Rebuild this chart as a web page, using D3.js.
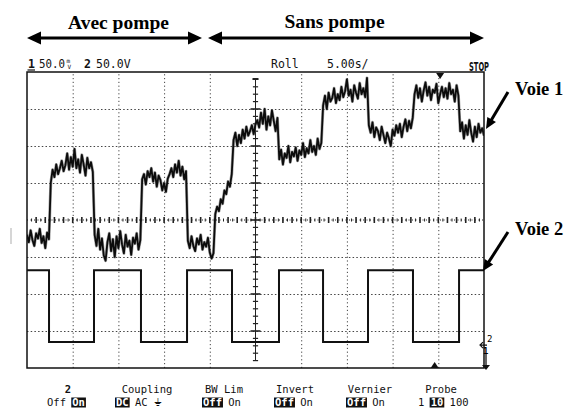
<!DOCTYPE html>
<html><head><meta charset="utf-8">
<script src="https://cdn.jsdelivr.net/npm/d3@7"></script>
<style>html,body{margin:0;padding:0;background:#fff}svg{display:block}</style>
</head><body>
<svg id="c" width="566" height="410"></svg>
<script>
// ---------------- DATA ----------------
// Channel 1 (noisy trace), mV relative to screen centre, one sample every 0.2 s
const ch1TimeStep = 0.2;
const ch1Values = [
  -20,-30,-14,-27,-35,-18,-25,-12,-31,-22,-38,-17,-26,
  50,68,58,75,62,70,80,66,74,90,68,85,72,96,70,82,64,88,75,60,84,70,78,65,
  -20,-35,-12,-40,-25,-48,-55,-30,-18,-42,-26,-50,-22,-38,-15,-33,-45,-20,-36,-28,-47,-24,-32,-18,-40,-27,
  55,62,48,66,58,70,52,64,45,60,54,40,50,38,56,62,70,58,75,64,80,60,72,55,66,
  -28,-38,-22,-35,-42,-25,-33,-20,-40,-30,-36,-24,-44,-52,
  -45,
  8,18,12,28,22,40,35,52,45,62,
  108,118,100,115,104,122,110,126,114,120,128,116,130,
  135,125,145,130,150,122,140,128,148,134,120,138,
  82,95,75,90,84,100,78,92,86,98,80,94,88,104,85,97,90,108,92,100,88,110,96,104,
  155,168,150,172,160,165,178,158,170,162,180,166,174,190,168,176,160,182,172,164,185,170,178,166,192,
  128,118,132,112,125,120,108,126,115,104,118,110,100,122,114,128,118,130,112,126,136,120,134,124,138,
  170,182,165,178,160,175,186,168,180,162,176,172,184,158,170,180,166,178,164,185,170,176,160,182,168,
  120,132,110,128,115,135,118,106,126,112,130,118,124,114
];
// Channel 2 (pump command, square wave): switching times (s) and levels (V)
const ch2Times  = [0, 2.41, 7.33, 12.47, 17.51, 22.43, 27.57, 32.39, 37.31, 42.23, 47.27, 50];
const ch2Levels = [97, 0,   97,   0,     97,    0,     97,    0,     97,    0,     97,    97];

const timeDomain = [0, 50];        // 10 div x 5.00 s/div
const divDomain = [-4, 4];         // 8 vertical divisions
const xGridTicks = [5, 10, 15, 20, 30, 35, 40, 45];
const yGridTicks = [-3, -2, -1, 1, 2, 3];
const ch1PerDiv = 50;   // mV/div
const ch2PerDiv = 50;   // V/div
const ch2OffsetDiv = -3.3;

const sectionLabels = ["Avec pompe", "Sans pompe"];
const traceLabels = ["Voie 1", "Voie 2"];
const headerTexts = ["50.0", "50.0V", "Roll", "5.00s/", "STOP"];
const footerTitles = ["2", "Coupling", "BW Lim", "Invert", "Vernier", "Probe"];
const footerOptions = [["Off","On"], ["DC","AC","⏚"], ["Off","On"], ["Off","On"], ["Off","On"], ["1","10","100"]];
const footerSelected = ["On", "DC", "Off", "Off", "Off", "10"];

// ---------------- DRAWING ----------------
const svg = d3.select('#c');
const P = {left: 27, right: 484, top: 72, bottom: 368};
const x = d3.scaleLinear().domain(timeDomain).range([P.left, P.right]);
const y = d3.scaleLinear().domain(divDomain).range([P.bottom, P.top]);
const mono = "'DejaVu Sans Mono', 'Liberation Mono', monospace";
const serif = "'Liberation Serif', 'DejaVu Serif', serif";

// faint artifact on the left
svg.append('line').attr('x1',11).attr('x2',11).attr('y1',228).attr('y2',244)
  .attr('stroke','#c8c8c8').attr('stroke-width',1.5);

// grid via axes
const vg = svg.append('g').attr('transform', `translate(0,${P.bottom})`)
  .call(d3.axisBottom(x).tickValues(xGridTicks).tickSize(-(P.bottom - P.top)).tickFormat(''));
vg.select('.domain').remove();
vg.selectAll('line').attr('stroke', '#444').attr('stroke-width', 1).attr('stroke-dasharray', '1.2,2.6');
const hg = svg.append('g').attr('transform', `translate(${P.left},0)`)
  .call(d3.axisLeft(y).tickValues(yGridTicks).tickSize(-(P.right - P.left)).tickFormat(''));
hg.select('.domain').remove();
hg.selectAll('line').attr('stroke', '#444').attr('stroke-width', 1).attr('stroke-dasharray', '1.5,2.2');

// centre axes with minor ticks
const cx = x(25), cy = y(0);
const cg = svg.append('g').attr('stroke', '#222');
cg.append('line').attr('x1', P.left).attr('x2', P.right).attr('y1', cy).attr('y2', cy)
  .attr('stroke-dasharray', '1,2.5').attr('stroke-width', 1);
cg.append('line').attr('x1', cx).attr('x2', cx).attr('y1', P.top + 7).attr('y2', P.bottom - 8)
  .attr('stroke-width', 1);
d3.range(0.5, 50, 0.5).forEach(t => {
  const major = Math.abs(t - Math.round(t)) < 1e-6;
  const h = major ? 3 : 1.5;
  cg.append('line').attr('x1', x(t)).attr('x2', x(t)).attr('y1', cy - h).attr('y2', cy + h)
    .attr('stroke-width', major ? 1.6 : 1);
});
d3.range(-3.8, 3.81, 0.2).forEach(v => {
  const isDiv = Math.abs(v - Math.round(v)) < 1e-6;
  const w = isDiv ? 5 : 2.6;
  cg.append('line').attr('x1', cx - w).attr('x2', cx + w).attr('y1', y(v)).attr('y2', y(v))
    .attr('stroke-width', isDiv ? 1.6 : 1.2);
});
cg.append('line').attr('x1', cx - 3).attr('x2', cx + 3).attr('y1', P.top + 7).attr('y2', P.top + 7).attr('stroke-width', 2);

// clip
svg.append('clipPath').attr('id', 'clip').append('rect')
  .attr('x', P.left).attr('y', P.top).attr('width', P.right - P.left).attr('height', P.bottom - P.top);

// channel 1
const line1 = d3.line().x((d, i) => x(i * ch1TimeStep)).y(d => y(d / ch1PerDiv));
svg.append('path').datum(ch1Values).attr('clip-path', 'url(#clip)')
  .attr('d', line1).attr('fill', 'none').attr('stroke', '#555').attr('stroke-width', 3)
  .attr('stroke-linejoin', 'round').attr('opacity', 0.55);
svg.append('path').datum(ch1Values).attr('clip-path', 'url(#clip)')
  .attr('d', line1).attr('fill', 'none').attr('stroke', '#0c0c0c').attr('stroke-width', 1.8)
  .attr('stroke-linejoin', 'round');

// channel 2
const ch2Data = ch2Times.map((t, i) => [t, ch2Levels[i]]);
const line2 = d3.line().curve(d3.curveStepAfter).x(d => x(d[0])).y(d => y(d[1] / ch2PerDiv + ch2OffsetDiv));
svg.append('path').datum(ch2Data).attr('clip-path', 'url(#clip)')
  .attr('d', line2).attr('fill', 'none').attr('stroke', '#111').attr('stroke-width', 2);

// border
svg.append('rect').attr('x', P.left).attr('y', P.top).attr('width', P.right - P.left).attr('height', P.bottom - P.top)
  .attr('fill', 'none').attr('stroke', '#111').attr('stroke-width', 1.5);

// markers
svg.append('path').attr('d', d3.line()([[x(45.2) - 4, P.top + 1], [x(45.2) + 4, P.top + 1], [x(45.2), P.top + 7]])).attr('fill', '#111');
svg.append('path').attr('d', d3.line()([[x(44.6) - 4, P.bottom], [x(44.6) + 4, P.bottom], [x(44.6), P.bottom - 6]])).attr('fill', '#111');
const gY = y(ch2OffsetDiv);
svg.append('path').attr('d', `M${P.right + 3},${gY + 3} L${P.right - 3},${gY + 3} M${P.right - 1},${gY} L${P.right - 4},${gY + 3} L${P.right - 1},${gY + 6}`)
  .attr('fill', 'none').attr('stroke', '#111').attr('stroke-width', 1.2);
svg.append('text').attr('x', P.right + 3).attr('y', gY).attr('font-family', mono).attr('font-size', 9).text('2');
svg.append('text').attr('x', P.right - 1).attr('y', gY + 12).attr('font-family', mono).attr('font-size', 9).attr('font-weight', 'bold').text('1');
svg.append('line').attr('x1', P.right + 2).attr('x2', P.right + 2).attr('y1', gY + 12).attr('y2', P.bottom - 2)
  .attr('stroke', '#111').attr('stroke-width', 1.3);
svg.append('path').attr('d', d3.line()([[P.right - 2, P.bottom - 3], [P.right + 6, P.bottom - 3], [P.right + 2, P.bottom + 2]])).attr('fill', '#111');

// header
const hdr = svg.append('g').attr('font-family', mono).attr('font-size', 11.5).attr('fill', '#111');
hdr.append('text').attr('x', 28).attr('y', 68).attr('font-weight', 'bold').text('1');
hdr.append('line').attr('x1', 27.5).attr('x2', 35).attr('y1', 70).attr('y2', 70).attr('stroke', '#111').attr('stroke-width', 1.2);
hdr.append('text').attr('x', 39).attr('y', 68).attr('textLength', 26).attr('lengthAdjust', 'spacingAndGlyphs').text(headerTexts[0]);
const unit = hdr.append('text').attr('x', 66.5).attr('y', 62.5).attr('font-size', 6);
unit.append('tspan').text('m');
unit.append('tspan').attr('x', 67.5).attr('dy', 6.5).text('V');
hdr.append('text').attr('x', 84).attr('y', 68).attr('font-weight', 'bold').text('2');
hdr.append('text').attr('x', 96).attr('y', 68).text(headerTexts[1]);
hdr.append('text').attr('x', 271).attr('y', 68).text(headerTexts[2]);
hdr.append('text').attr('x', 327).attr('y', 68).text(headerTexts[3]);
hdr.append('text').attr('x', 469).attr('y', 71).attr('font-family', "'DejaVu Sans Condensed','DejaVu Sans',sans-serif")
  .attr('font-weight', 'bold').attr('font-size', 13).attr('textLength', 20).attr('lengthAdjust', 'spacingAndGlyphs').text(headerTexts[4]);

// section titles and double arrows
function arrowHead(g, tipX, tipY, dirX, dirY, len, half) {
  const bx = tipX - dirX * len, by = tipY - dirY * len;
  const px = -dirY, py = dirX;
  g.append('path').attr('d', d3.line()([[tipX, tipY], [bx + px * half, by + py * half], [bx - px * half, by - py * half]]))
    .attr('fill', '#000');
}
function arrow(g, x1, y1, x2, y2, w, len, half, both) {
  const dx = x2 - x1, dy = y2 - y1, L = Math.hypot(dx, dy), ux = dx / L, uy = dy / L;
  const sx = both ? x1 + ux * (len - 2) : x1, sy = both ? y1 + uy * (len - 2) : y1;
  g.append('line').attr('x1', sx).attr('y1', sy).attr('x2', x2 - ux * (len - 2)).attr('y2', y2 - uy * (len - 2))
    .attr('stroke', '#000').attr('stroke-width', w);
  arrowHead(g, x2, y2, ux, uy, len, half);
  if (both) arrowHead(g, x1, y1, -ux, -uy, len, half);
}
const ttl = svg.append('g');
arrow(ttl, x(0), 38, x(19.15), 38, 3.2, 14, 6.5, true);
arrow(ttl, x(19.8), 38, x(50), 38, 3.2, 14, 6.5, true);
ttl.append('text').attr('x', 118.5).attr('y', 29).attr('text-anchor', 'middle').attr('font-family', serif)
  .attr('font-weight', 'bold').attr('font-size', 19.5).text(sectionLabels[0]);
ttl.append('text').attr('x', 334.5).attr('y', 27.5).attr('text-anchor', 'middle').attr('font-family', serif)
  .attr('font-weight', 'bold').attr('font-size', 19.5).text(sectionLabels[1]);

// trace labels
ttl.append('text').attr('x', 515).attr('y', 95).attr('font-family', serif).attr('font-weight', 'bold').attr('font-size', 18.5).text(traceLabels[0]);
ttl.append('text').attr('x', 515).attr('y', 235).attr('font-family', serif).attr('font-weight', 'bold').attr('font-size', 18.5).text(traceLabels[1]);
arrow(ttl, 508, 92, 486, 129, 3, 11, 5, false);
arrow(ttl, 508, 232, 483, 271, 3, 11, 5, false);

// footer
const colCenters = [68, 147, 224, 295, 370, 441];
const colStarts = [47, 116, 203, 275, 347, 418];
const ft = svg.append('g').attr('font-family', mono).attr('font-size', 10.5).attr('fill', '#111');
footerTitles.forEach((t, i) => {
  ft.append('text').attr('x', colCenters[i]).attr('y', 393).attr('text-anchor', 'middle')
    .attr('font-weight', i === 0 ? 'bold' : 'normal').text(t);
  let cxp = colStarts[i];
  footerOptions[i].forEach(o => {
    const sel = o === footerSelected[i];
    const tmp = ft.append('text').attr('x', cxp).attr('y', 406).text(o);
    const w = tmp.node().getComputedTextLength();
    if (sel) {
      ft.insert('rect', () => tmp.node()).attr('x', cxp - 1).attr('y', 397.5).attr('width', w + 2).attr('height', 10).attr('fill', '#111');
      tmp.attr('fill', '#fff').attr('font-weight', 'bold');
    }
    cxp += w + 6.3;
  });
});
</script>
</body></html>
